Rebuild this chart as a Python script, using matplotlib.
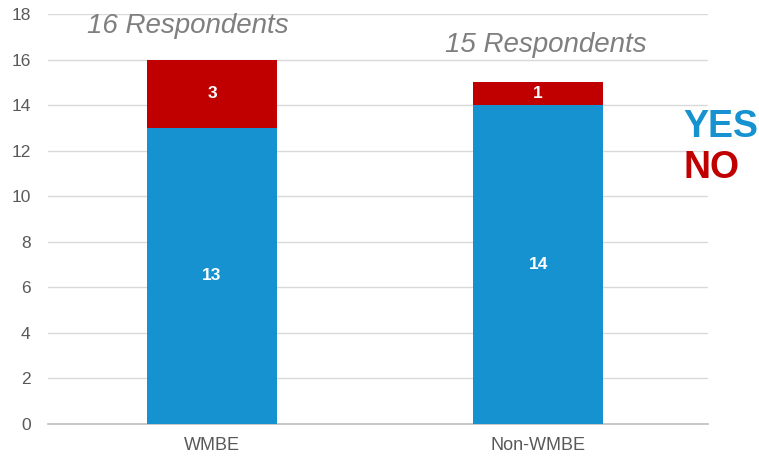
import matplotlib.pyplot as plt

categories = ['WMBE', 'Non-WMBE']
yes_counts = [13, 14]
no_counts = [3, 1]
respondent_labels = ['16 Respondents', '15 Respondents']
y_ticks = list(range(0, 20, 2))

blue = '#1592CF'
red = '#C00000'
gray = '#595959'

plt.rcParams['font.family'] = ['Liberation Sans', 'DejaVu Sans']

fig = plt.figure(figsize=(7.59, 4.62), dpi=100)
ax = fig.add_axes([48 / 759, 1 - 424 / 462, 660 / 759, 410 / 462])

x = range(len(categories))
ax.bar(x, yes_counts, width=0.4, color=blue, zorder=3)
ax.bar(x, no_counts, width=0.4, bottom=yes_counts, color=red, zorder=3)

for i in x:
    ax.text(i, yes_counts[i] / 2, str(yes_counts[i]), ha='center', va='center',
            color='white', fontsize=12.5, fontweight='bold', zorder=4)
    ax.text(i, yes_counts[i] + no_counts[i] / 2, str(no_counts[i]), ha='center', va='center',
            color='white', fontsize=12.5, fontweight='bold', zorder=4)

# respondent counts sit a bit off-center above the bars
ax.text(-0.074, 17.47, respondent_labels[0], ha='center', va='center',
        color='#7F7F7F', fontsize=20, style='italic')
ax.text(1.025, 16.64, respondent_labels[1], ha='center', va='center',
        color='#7F7F7F', fontsize=20, style='italic')

ax.set_xlim(-0.503, 1.521)
ax.set_ylim(0, 18)
ax.set_xticks(list(x))
ax.set_xticklabels(categories)
ax.set_yticks(y_ticks)
ax.tick_params(length=0, labelcolor=gray)
ax.tick_params(axis='x', pad=9, labelsize=13)
ax.tick_params(axis='y', pad=12.5, labelsize=12.5)
ax.grid(axis='y', color='#D9D9D9', linewidth=1, zorder=0)
for s in ['top', 'right', 'left']:
    ax.spines[s].set_visible(False)
ax.spines['bottom'].set_color('#BFBFBF')
ax.spines['bottom'].set_linewidth(1.2)

fig.text(683 / 759, 1 - 127 / 462, 'YES', color=blue, fontsize=27,
         fontweight='bold', ha='left', va='center')
fig.text(683 / 759, 1 - 168 / 462, 'NO', color=red, fontsize=27,
         fontweight='bold', ha='left', va='center')

fig.savefig('out.png', dpi=100)
